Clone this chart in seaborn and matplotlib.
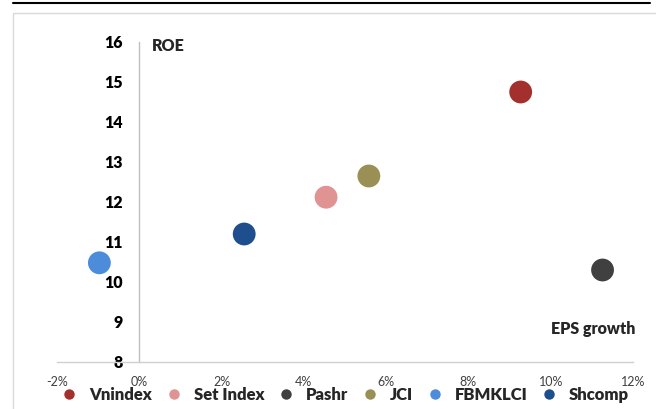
import matplotlib
matplotlib.use("Agg")
import matplotlib.pyplot as plt
from matplotlib.patches import Rectangle
from matplotlib.lines import Line2D
from matplotlib.ticker import FuncFormatter, MultipleLocator
import seaborn as sns
import pandas as pd

# Market indices: EPS growth (%) vs ROE
markets = ["Vnindex", "Set Index", "Pashr", "JCI", "FBMKLCI", "Shcomp"]
eps_growth = [9.27, 4.54, 11.26, 5.58, -0.97, 2.55]
roe = [14.75, 12.12, 10.30, 12.65, 10.48, 11.20]
colors = ["#A3302D", "#E09393", "#404040", "#9A8F55", "#4D8BDB", "#1F4E8F"]

df = pd.DataFrame({"market": markets, "eps": eps_growth, "roe": roe})

sns.set_theme(style="white")
plt.rcParams["font.family"] = ["Lato", "DejaVu Sans"]

fig = plt.figure(figsize=(6.56, 4.09), dpi=100)
ax = fig.add_axes([57 / 656, 1 - 362 / 409, (633 - 57) / 656, (362 - 42) / 409])

sns.scatterplot(data=df, x="eps", y="roe", hue="market", hue_order=markets,
                palette=colors, s=270, edgecolor="none", linewidth=0,
                legend=False, ax=ax, zorder=3)

ax.set_xlim(-2, 12)
ax.set_ylim(8, 16)
ax.xaxis.set_major_locator(MultipleLocator(2))
ax.yaxis.set_major_locator(MultipleLocator(1))
ax.xaxis.set_major_formatter(FuncFormatter(lambda v, p: f"{v:.0f}%"))
ax.set_xlabel("")
ax.set_ylabel("")

for side in ["top", "right"]:
    ax.spines[side].set_visible(False)
ax.spines["left"].set_position(("data", 0))
ax.spines["left"].set_color("#BFBFBF")
ax.spines["bottom"].set_color("#D0D0D0")
ax.spines["left"].set_linewidth(1.0)
ax.spines["bottom"].set_linewidth(1.0)

ax.tick_params(axis="y", length=0, pad=12, labelsize=11.5, labelcolor="#000000")
ax.tick_params(axis="x", length=0, pad=10, labelsize=9, labelcolor="#404040")
for lbl in ax.get_yticklabels():
    lbl.set_fontweight("heavy")

ax.text(0.3, 15.9, "ROE", fontsize=11.5, fontweight="heavy", ha="left", va="center")
ax.text(12.05, 8.82, "EPS growth", fontsize=11.5, fontweight="heavy", ha="right", va="center")

handles = [Line2D([0], [0], marker="o", linestyle="none", markersize=7.5,
                  markerfacecolor=c, markeredgecolor="none") for c in colors]
leg = fig.legend(handles, markets, loc="center", bbox_to_anchor=(345 / 656, 1 - 395 / 409),
                 ncol=6, frameon=False, handletextpad=0.7, columnspacing=0.8,
                 prop={"size": 12, "weight": "heavy"}, handlelength=1.0)

# chart frame and top rule
fig.patches.append(Rectangle((13 / 656, -0.05), 1.0, 1 - 13 / 409 + 0.05,
                             transform=fig.transFigure, fill=False,
                             edgecolor="#D9D9D9", linewidth=1.0))
fig.lines.append(Line2D([13 / 656, 650 / 656], [1 - 3 / 409, 1 - 3 / 409],
                        transform=fig.transFigure, color="black", linewidth=1.5))

fig.savefig("out.png", dpi=100)
